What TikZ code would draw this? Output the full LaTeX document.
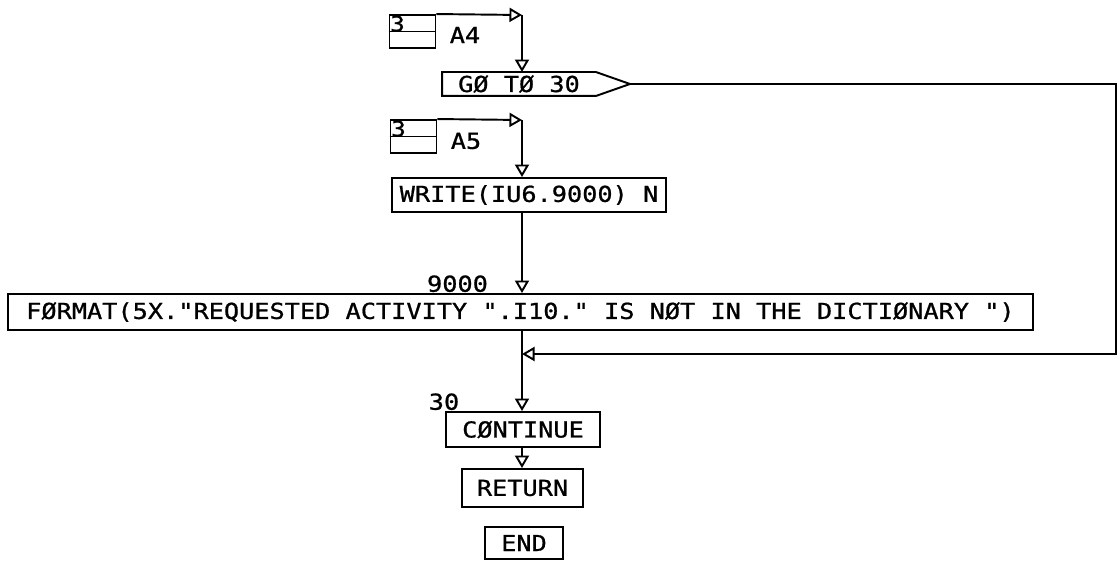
\documentclass[tikz,border=0pt]{standalone}
\usepackage{fontspec}
\newfontfamily\plotter[FakeStretch=1.15,FakeBold=0.9]{DejaVu Sans Mono}
\usetikzlibrary{arrows.meta}

\begin{document}
\begin{tikzpicture}[line width=1.1pt, >={Triangle[open,length=0.25cm,width=0.28cm]},
    font=\plotter\fontsize{12.5}{14}\selectfont,
    stmt/.style={draw, inner sep=0pt, minimum height=0.7cm},
    entry/.style={draw, inner sep=0pt, minimum width=0.92cm, minimum height=0.66cm},
    lbl/.style={inner sep=0pt},
    num/.style={inner sep=0.4pt, font=\plotter\fontsize{12}{13}\selectfont}]
  % positions at 1 px = 0.02 cm; the flow line runs down x = 10.44
  \useasboundingbox (0,0) rectangle (22.36,-11.26);
  \node[entry] (a4) at (8.25,-0.63) {};
  \draw (a4.west) -- (a4.east);
  \node[num, anchor=north west] (a4n) at (a4.north west) {3};
  \node[lbl] (a4l) at (9.3,-0.7) {A4};
  \coordinate (a4t) at (10.44,-0.3);
  \node[inner sep=0pt, minimum width=3.04cm, minimum height=0.44cm] (goto) at (10.38,-1.68) {GØ TØ 30};
  \draw (goto.north west) -- (goto.north east) -- (12.6,-1.68) coordinate (gotop)
    -- (goto.south east) -- (goto.south west) -- cycle;
  \draw[->] (a4.north east) -- (a4t);
  \draw[->] (a4t) -- (a4t |- goto.north);
  \node[entry] (a5) at (8.27,-2.73) {};
  \draw (a5.west) -- (a5.east);
  \node[num, anchor=north west] (a5n) at (a5.north west) {3};
  \node[lbl] (a5l) at (9.32,-2.82) {A5};
  \coordinate (a5t) at (10.44,-2.4);
  \node[stmt, minimum width=5.48cm, minimum height=0.68cm] (write) at (10.58,-3.9) {WRITE(IU6.9000) N};
  \draw[->] (a5.north east) -- (a5t);
  \draw[->] (a5t) -- (a5t |- write.north);
  \node[stmt, minimum width=20.5cm, minimum height=0.72cm] (fmt) at (10.41,-6.24)
    {FØRMAT(5X."REQUESTED ACTIVITY ".I10." IS NØT IN THE DICTIØNARY ")};
  \node[lbl, anchor=south] (fmtl) at (9.15,-5.86) {9000};
  \draw[->] (a5t |- write.south) -- (a5t |- fmt.north);
  \node[stmt, minimum width=3.08cm] (cont) at (10.46,-8.59) {CØNTINUE};
  \node[lbl, anchor=south] (contl) at (8.88,-8.22) {30};
  \node[stmt, minimum width=2.42cm, minimum height=0.76cm] (ret) at (10.45,-9.76) {RETURN};
  \node[stmt, minimum width=1.56cm, minimum height=0.64cm] (end) at (10.48,-10.86) {END};
  \draw[->] (a5t |- fmt.south) -- (a5t |- cont.north);
  \draw[->] (a5t |- cont.south) -- (a5t |- ret.north);
  \coordinate (loopr) at (22.32,-7.08);
  \coordinate (join) at (10.44,-7.08);
  \draw[->] (gotop) -| (loopr) -- (join);
\end{tikzpicture}
\end{document}
